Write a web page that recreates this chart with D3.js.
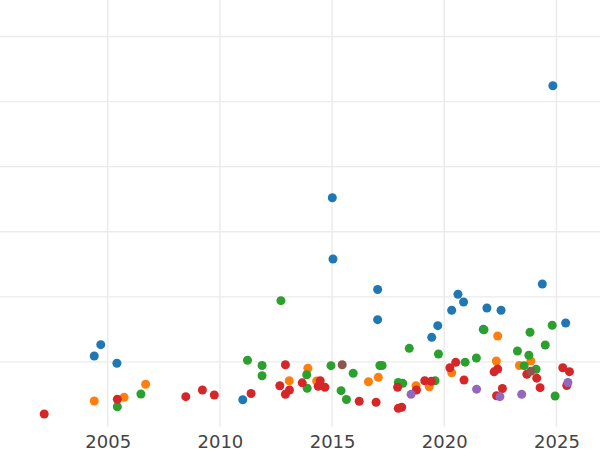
<!DOCTYPE html>
<html>
<head>
<meta charset="utf-8">
<script src="https://cdn.jsdelivr.net/npm/d3@7"></script>
<style>
  html, body { margin: 0; padding: 0; background: #fff; }
  svg { display: block; }
</style>
</head>
<body>
<svg id="chart" width="600" height="450"></svg>
<script>
// ---- data ----
const seriesNames = ["A", "B", "C", "D", "E", "F"];
const seriesColors = ["#1f77b4", "#ff7f0e", "#2ca02c", "#d62728", "#9467bd", "#8c564b"];

const aYears = [2004.40, 2004.69, 2005.41, 2011.02, 2015.01, 2015.04, 2017.03, 2017.03, 2019.44, 2019.71,
                2020.33, 2020.61, 2020.86, 2021.74, 2021.90, 2022.53, 2024.37, 2024.84, 2025.41];
const aValues = [10.91, 12.65, 9.79, 4.19, 35.23, 25.81, 21.13, 16.49, 13.78, 15.57,
                 17.93, 20.39, 19.21, 15.01, 18.29, 17.93, 21.97, 52.44, 15.98];

const bYears = [2004.40, 2005.73, 2006.69, 2013.09, 2013.92, 2014.31, 2016.62, 2017.06, 2018.74, 2019.33,
                2020.33, 2022.38, 2022.32, 2023.35, 2023.86];
const bValues = [4.00, 4.56, 6.56, 7.10, 9.02, 7.07, 6.96, 7.64, 6.35, 6.19,
                 8.34, 13.98, 10.14, 9.45, 10.14];

const cYears = [2005.43, 2006.48, 2011.23, 2011.88, 2011.88, 2012.72, 2013.87, 2013.89, 2014.95, 2015.40,
                2015.64, 2015.94, 2017.13, 2017.23, 2017.95, 2018.15, 2018.44, 2019.59, 2019.74, 2020.93,
                2021.43, 2021.77, 2023.26, 2023.56, 2023.77, 2023.82, 2024.09, 2024.50, 2024.81, 2024.94];
const cValues = [3.12, 5.07, 10.26, 9.45, 7.88, 19.41, 8.02, 5.96, 9.42, 5.58,
                 4.23, 8.25, 9.45, 9.45, 6.84, 6.71, 12.09, 7.11, 11.22, 9.96,
                 10.60, 14.95, 11.68, 9.42, 11.03, 14.55, 8.88, 12.60, 15.64, 4.76];

const dYears = [2002.17, 2005.43, 2008.48, 2009.22, 2009.75, 2011.39, 2012.67, 2012.92, 2012.92, 2013.10,
                2013.67, 2014.38, 2014.47, 2014.68, 2016.21, 2016.96, 2017.92, 2017.95, 2018.10, 2018.76,
                2019.13, 2019.42, 2020.25, 2020.51, 2020.88, 2022.22, 2022.38, 2022.33, 2022.59, 2023.68,
                2024.12, 2024.27, 2025.28, 2025.58, 2025.46];
const dValues = [2.00, 4.26, 4.66, 5.69, 4.92, 5.15, 6.33, 9.57, 5.04, 5.69,
                 6.79, 6.25, 7.10, 6.10, 3.96, 3.80, 6.10, 2.87, 3.03, 5.69,
                 7.11, 7.02, 9.11, 9.94, 7.22, 8.48, 8.91, 4.81, 5.92, 8.11,
                 7.50, 6.04, 9.11, 8.50, 6.38];

const eYears = [2018.52, 2021.44, 2022.48, 2023.45, 2025.51];
const eValues = [5.02, 5.81, 4.66, 5.02, 6.84];

const fYears = [2015.45, 2023.86];
const fValues = [9.57, 8.56];

const xTicks = [2005, 2010, 2015, 2020, 2025];
const yGrid = [10, 20, 30, 40, 50, 60];

// ---- assemble ----
const allYears = [aYears, bYears, cYears, dYears, eYears, fYears];
const allValues = [aValues, bValues, cValues, dValues, eValues, fValues];
const points = [];
seriesNames.forEach((name, si) => {
  allYears[si].forEach((yr, i) => points.push({ series: name, year: yr, value: allValues[si][i] }));
});

// ---- layout ----
const W = 600, H = 450;
const plot = { left: 0, right: 600, top: 0, bottom: 427 };

const x = d3.scaleLinear().domain([2000.2, 2026.94]).range([plot.left, plot.right]);
const y = d3.scaleLinear().domain([0, 60]).range([plot.bottom, 36.5]);
const color = d3.scaleOrdinal().domain(seriesNames).range(seriesColors);

const svg = d3.select("#chart");

// grid
const grid = svg.append("g").attr("class", "grid");
grid.selectAll("line.h").data(yGrid).join("line")
  .attr("class", "h")
  .attr("x1", plot.left).attr("x2", plot.right)
  .attr("y1", d => y(d)).attr("y2", d => y(d))
  .attr("stroke", "#ebebeb").attr("stroke-width", 1.3);
grid.selectAll("line.v").data(xTicks).join("line")
  .attr("class", "v")
  .attr("x1", d => x(d)).attr("x2", d => x(d))
  .attr("y1", plot.top).attr("y2", plot.bottom)
  .attr("stroke", "#ebebeb").attr("stroke-width", 1.5);

// points
svg.append("g").selectAll("circle").data(points).join("circle")
  .attr("cx", d => x(d.year))
  .attr("cy", d => y(d.value))
  .attr("r", 4.5)
  .attr("fill", d => color(d.series));

// x axis
const xAxis = d3.axisBottom(x).tickValues(xTicks).tickFormat(d3.format("d"))
  .tickSize(0).tickPadding(8);
const gx = svg.append("g").attr("transform", `translate(0,${plot.bottom})`).call(xAxis);
gx.select(".domain").remove();
gx.selectAll("text")
  .attr("fill", "#444")
  .style("font-family", "'DejaVu Sans', sans-serif")
  .style("font-size", "18px");
</script>
</body>
</html>
